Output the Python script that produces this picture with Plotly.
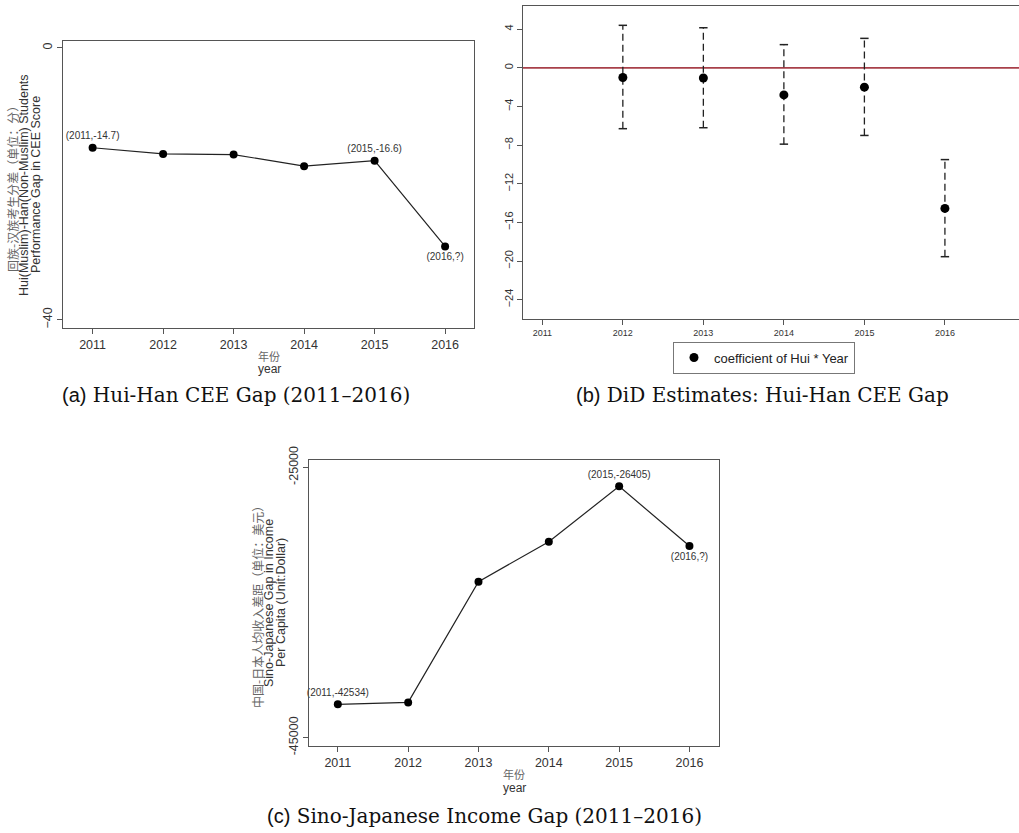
import plotly.graph_objects as go

W, H = 1019, 833

# ---------------- data ----------------
years = [2011, 2012, 2013, 2014, 2015, 2016]

# (a) Hui-Han CEE gap
cee_gap = [-14.7, -15.6, -15.7, -17.4, -16.6, -29.2]
cee_labels = ["(2011,-14.7)", "", "", "", "(2015,-16.6)", "(2016,?)"]
cee_label_pos = ["top center", "top center", "top center", "top center", "top center", "bottom center"]

# (b) DiD estimates
did_years = [2012, 2013, 2014, 2015, 2016]
did_coef = [-1.0, -1.05, -2.8, -2.0, -14.55]
did_lo = [-6.3, -6.2, -7.9, -7.0, -19.55]
did_hi = [4.4, 4.15, 2.4, 3.05, -9.5]

# (c) Sino-Japanese income gap
inc_gap = [-42534, -42390, -33460, -30505, -26405, -30825]
inc_labels = ["(2011,-42534)", "", "", "", "(2015,-26405)", "(2016,?)"]
inc_label_pos = ["top center", "top center", "top center", "top center", "top center", "bottom center"]

SANS = "Liberation Sans, Arial, sans-serif"
CJK = "Noto Sans CJK SC"
SERIF = "DejaVu Serif, serif"
AX = "#555555"
TXT = "#333333"


def px_x(p):
    return p / W


def px_y(p):
    return 1 - p / H


fig = go.Figure()

# ---------- panel (a) ----------
fig.add_trace(go.Scatter(
    x=years, y=cee_gap, mode="lines+markers+text",
    line=dict(color="#222222", width=1.2),
    marker=dict(color="black", size=8),
    text=cee_labels, textposition=cee_label_pos,
    textfont=dict(family=SANS, size=10, color=TXT),
    xaxis="x", yaxis="y", showlegend=False, cliponaxis=False))

# ---------- panel (b) ----------
fig.add_trace(go.Scatter(
    x=[2010.76, 2017.3], y=[0, 0], mode="lines",
    line=dict(color="#a8404a", width=1.8),
    xaxis="x2", yaxis="y2", showlegend=False, hoverinfo="skip"))
for yr, lo, hi in zip(did_years, did_lo, did_hi):
    fig.add_trace(go.Scatter(
        x=[yr, yr], y=[lo, hi], mode="lines+markers",
        line=dict(color="#222222", width=1.3, dash="7px,4px"),
        marker=dict(symbol="line-ew", size=6, line=dict(color="#222222", width=1.5)),
        xaxis="x2", yaxis="y2", showlegend=False, hoverinfo="skip"))
fig.add_trace(go.Scatter(
    x=did_years, y=did_coef, mode="markers",
    marker=dict(color="black", size=9),
    name="coefficient of Hui * Year",
    xaxis="x2", yaxis="y2", showlegend=True))

# ---------- panel (c) ----------
fig.add_trace(go.Scatter(
    x=years, y=inc_gap, mode="lines+markers+text",
    line=dict(color="#222222", width=1.2),
    marker=dict(color="black", size=8),
    text=inc_labels, textposition=inc_label_pos,
    textfont=dict(family=SANS, size=10, color=TXT),
    xaxis="x3", yaxis="y3", showlegend=False, cliponaxis=False))

common_x = dict(showline=True, linecolor=AX, linewidth=1.2, mirror=True,
                ticks="outside", ticklen=5, tickcolor=AX, showgrid=False,
                zeroline=False, automargin=False,
                tickfont=dict(family=SANS, size=12.5, color=TXT))
common_y = dict(showline=True, linecolor=AX, linewidth=1.2, mirror=True,
                ticks="outside", ticklen=5, tickcolor=AX, showgrid=False,
                zeroline=False, automargin=False, tickangle=-90,
                tickfont=dict(family=SANS, size=12.5, color=TXT))

fig.update_layout(
    template="none",
    width=W, height=H, margin=dict(l=0, r=0, t=0, b=0, pad=0), autosize=False,
    paper_bgcolor="white", plot_bgcolor="white",
    xaxis=dict(common_x, domain=[px_x(63), px_x(474)], range=[2010.58, 2016.41],
               tickvals=years, anchor="y"),
    yaxis=dict(common_y, domain=[px_y(328), px_y(41)], range=[-41.2, 1.0],
               tickvals=[0, -40], anchor="x"),
    xaxis2=dict(common_x, domain=[px_x(523), 1.0], range=[2010.76, 2016.92],
                tickvals=years, anchor="y2", tickfont=dict(family=SANS, size=9, color=TXT)),
    yaxis2=dict(common_y, domain=[px_y(319), px_y(6)], range=[-26.0, 6.4], mirror=False,
                tickvals=[4, 0, -4, -8, -12, -16, -20, -24], anchor="x2",
                tickfont=dict(family=SANS, size=11, color=TXT)),
    xaxis3=dict(common_x, domain=[px_x(309), px_x(719)], range=[2010.59, 2016.42],
                tickvals=years, anchor="y3"),
    yaxis3=dict(common_y, domain=[px_y(746), px_y(460)], range=[-45614, -24460],
                tickvals=[-25000, -45000], ticktext=["-25000", "-45000"], anchor="x3"),
    legend=dict(x=px_x(764), y=px_y(357.5), xanchor="center", yanchor="middle",
                bordercolor="#777777", borderwidth=1, bgcolor="white",
                font=dict(family=SANS, size=13, color="#222222"),
                itemwidth=30, tracegroupgap=0),
)

ann = []


def add_text(text, x, y, size, angle=0, font=SANS, color=TXT):
    ann.append(dict(text=text, x=px_x(x), y=px_y(y), xref="paper", yref="paper",
                    xanchor="center", yanchor="middle", showarrow=False,
                    textangle=angle, font=dict(family=font, size=size, color=color)))


# (a) axis titles
add_text("回族-汉族考生分差（单位：分）", 12, 186, 12, -90, CJK, "#666666")
add_text("Hui(Muslim)-Han(Non-Muslim) Students", 24, 185, 12.5, -90)
add_text("Performance Gap in CEE Score", 36, 185, 12.5, -90)
add_text("年份", 269, 356, 11, 0, CJK, "#666666")
add_text("year", 269, 369, 12)

# (c) axis titles
add_text("中国-日本人均收入差距（单位：美元）", 257, 604, 12, -90, CJK, "#666666")
add_text("Sino-Japanese Gap in Income", 269, 603, 12.5, -90)
add_text("Per Capita (Unit:Dollar)", 281, 603, 12.5, -90)
add_text("年份", 514, 774, 11, 0, CJK, "#666666")
add_text("year", 514, 788, 12)

# captions
cap = "<span style='font-family:Liberation Sans, Arial'>{}</span> {}"
add_text(cap.format("(a)", "Hui-Han CEE Gap (2011–2016)"), 236, 395, 20, 0, SERIF, "#111111")
add_text(cap.format("(b)", "DiD Estimates: Hui-Han CEE Gap"), 762, 395, 20, 0, SERIF, "#111111")
add_text(cap.format("(c)", "Sino-Japanese Income Gap (2011–2016)"), 484, 816, 20, 0, SERIF, "#111111")

fig.update_layout(annotations=ann)

fig.write_html("out.html", config={"displayModeBar": False},
               post_script="document.body.style.margin='0';document.body.style.overflow='hidden';")
